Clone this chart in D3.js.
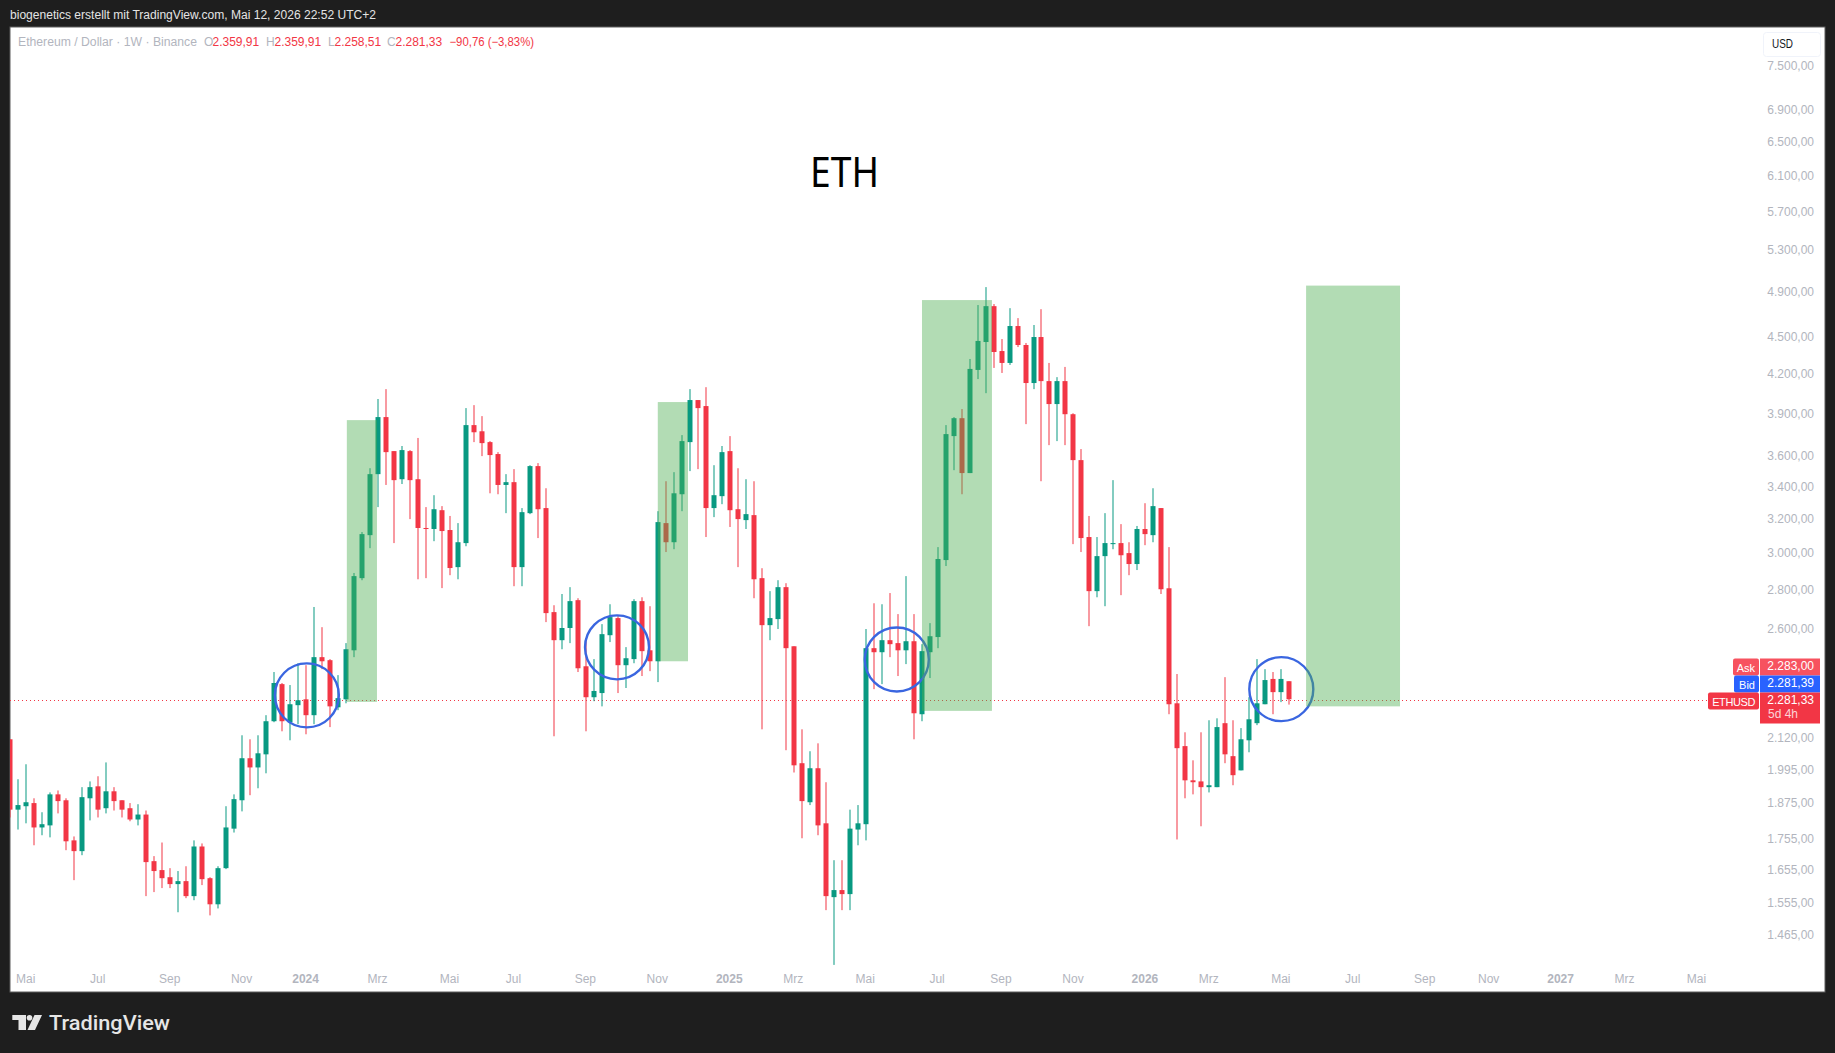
<!DOCTYPE html>
<html>
<head>
<meta charset="utf-8">
<style>
  html, body { margin: 0; padding: 0; background: #1e1e1e; overflow: hidden; }
  text { font-family: "Liberation Sans", Arial, sans-serif; }
</style>
<script src="https://cdn.jsdelivr.net/npm/d3@7"></script>
</head>
<body>
<div id="chart"></div>
<script>
// weekly candles, oldest first
const opens = [
  2116,1854,1866,1877,1793,1800,1908,1887,1750,1715,
  1894,1937,1859,1919,1887,1859,1820,1837,1683,1655,
  1633,1612,1621,1576,1730,1630,1552,1661,1789,1887,
  2042,2007,2057,2189,2347,2185,2256,2281,2214,2469,
  2455,2247,2281,2501,2864,3105,3482,3876,3636,3449,
  3636,3449,3147,3141,3254,3135,2924,3059,3818,3774,
  3698,3616,3412,3430,2924,3236,3535,3267,2687,2549,
  2608,2748,2427,2290,2308,2573,2657,2432,2460,2743,
  2501,2450,3176,3064,3353,3698,4002,3957,3267,3341,
  3636,3260,3194,3224,2864,2622,2652,2816,2520,2023,
  1880,2004,1807,1573,1594,1582,1786,1804,2511,2492,
  2549,2535,2501,2544,2218,2492,2564,2963,3740,3868,
  3489,4235,4463,4774,4388,4291,4599,4438,4132,4505,
  4147,3972,4147,3897,3575,3094,2795,2985,3053,3059,
  3002,2941,3141,3105,3267,2810,2264,2089,1959,1955,
  1934,1934,2181,2050,1996,2112,2181,2260,2370,2312,
  2359.91]
const highs = [
  2116,1963,2019,1894,1845,1915,1922,1894,1763,1934,
  1955,1974,2026,1934,1887,1877,1873,1851,1699,1743,
  1661,1652,1667,1750,1740,1633,1667,1866,1908,2132,
  2116,2132,2214,2401,2352,2343,2441,2432,2713,2612,
  2460,2387,2535,2892,3123,3521,4010,4085,3636,3671,
  3643,3727,3273,3347,3279,3219,3176,3942,3964,3883,
  3705,3629,3482,3515,3267,3541,3555,3391,2722,2780,
  2816,2758,2559,2460,2627,2727,2667,2516,2753,2763,
  2717,3248,3436,3495,3747,4085,4002,4100,3541,3671,
  3740,3521,3449,3436,2918,2795,2853,2837,2520,2156,
  2069,2100,1952,1686,1686,1854,1870,2603,2732,2727,
  2785,2677,2875,2677,2530,2632,3036,3818,3876,3935,
  4323,4784,4948,4793,4488,4756,4668,4455,4608,4747,
  4291,4178,4259,3904,3650,3219,3094,3236,3443,3170,
  3064,3159,3297,3391,3267,3036,2392,2144,2034,2144,
  2193,2201,2378,2193,2161,2290,2460,2414,2401,2414,
  2359.91]
const lows = [
  1827,1786,1807,1734,1767,1760,1841,1718,1624,1702,
  1817,1827,1841,1851,1827,1814,1800,1576,1588,1600,
  1600,1529,1570,1564,1609,1520,1540,1658,1776,1848,
  1905,1930,1985,2185,2148,2112,2177,2136,2177,2414,
  2165,2235,2264,2469,2853,3030,3273,3412,3059,3418,
  3200,2858,2864,3070,2811,2880,2858,3041,3698,3602,
  3359,3353,3236,2821,2821,3230,3088,2637,2128,2506,
  2535,2401,2148,2273,2251,2540,2308,2330,2441,2383,
  2405,2356,3008,3024,3248,3502,3515,3094,3212,3291,
  3153,2924,3141,2758,2156,2549,2603,2073,1988,1757,
  1870,1767,1535,1385,1535,1535,1734,1750,2325,2347,
  2469,2383,2437,2116,2189,2374,2511,2930,3508,3353,
  3489,4163,4054,4251,4211,4275,4421,3825,4085,3436,
  3677,3705,3677,3053,3008,2617,2763,2717,3024,2774,
  2880,2908,3047,3064,2780,2218,1753,1894,1908,1797,
  1915,1934,2023,1941,1996,2065,2173,2260,2218,2269,
  2258.51]
const closes = [
  1854,1870,1880,1793,1804,1908,1884,1747,1715,1898,
  1934,1854,1919,1884,1854,1820,1837,1680,1652,1630,
  1612,1621,1576,1730,1627,1552,1661,1793,1891,2042,
  2007,2061,2189,2352,2189,2260,2277,2214,2469,2450,
  2251,2286,2506,2875,3111,3482,3876,3629,3443,3643,
  3443,3147,3141,3260,3129,2919,3064,3818,3767,3691,
  3609,3412,3430,2924,3242,3535,3260,2682,2549,2608,
  2743,2418,2290,2317,2578,2662,2432,2464,2743,2497,
  2450,3182,3064,3359,3705,4002,3942,3267,3347,3629,
  3254,3200,3230,2858,2622,2657,2816,2511,2015,1884,
  2004,1800,1576,1594,1582,1789,1807,2511,2492,2549,
  2530,2501,2544,2222,2497,2568,2969,3754,3868,3489,
  4243,4472,4774,4380,4291,4599,4438,4132,4505,4147,
  3972,4147,3897,3575,3088,2795,2985,3059,3059,2990,
  2941,3141,3111,3279,2805,2260,2081,1959,1952,1934,
  1941,2165,2057,1978,2116,2197,2264,2365,2312,2370,
  2281.33]

// axis ticks
const priceTicks = [7500,6900,6500,6100,5700,5300,4900,4500,4200,3900,3600,3400,3200,3000,2800,2600,2120,1995,1875,1755,1655,1555,1465]
const timeTickIndex = [2,11,20,29,37,46,55,63,72,81,90,98,107,116,124,133,142,150,159,168,177,185,194,202,211]
const timeTickLabels = ["Mai","Jul","Sep","Nov","2024","Mrz","Mai","Jul","Sep","Nov","2025","Mrz","Mai","Jul","Sep","Nov","2026","Mrz","Mai","Jul","Sep","Nov","2027","Mrz","Mai"]

// drawn annotations, in bar index / price
const zoneFrom = [42.1, 81.0, 114.05, 162.1]
const zoneTo = [45.87, 84.78, 122.8, 173.85]
const zoneTop = [3854, 3987, 4829, 4962]
const zoneBottom = [2270, 2450, 2232, 2251]
const ringIndex = [37.1, 75.9, 110.9, 159]
const ringPrice = [2298, 2515, 2458, 2325]

const lastPrice = 2281.33
const askPrice = 2283.00
const bidPrice = 2281.39

const outerWidth = 1835, outerHeight = 1053
const panel = { left: 10, top: 27, right: 1825, bottom: 992 }
const upColor = "#089981", downColor = "#F23645", textGrey = "#b2b5be"

const x = d3.scaleLinear().domain([0, 160]).range([10.3, 1289.3])
const y = d3.scaleLog().domain([1465, 7500]).range([935, 65.7])

const de = d3.formatLocale({ decimal: ",", thousands: ".", grouping: [3], currency: ["", ""] })
const price = de.format(",.2f")

const svg = d3.select("#chart")
  .append("svg")
  .attr("width", outerWidth)
  .attr("height", outerHeight)
  .style("display", "block")

svg.append("defs").append("clipPath")
  .attr("id", "plot-clip")
  .append("rect")
  .attr("x", panel.left)
  .attr("y", panel.top)
  .attr("width", panel.right - panel.left)
  .attr("height", panel.bottom - panel.top)

svg.append("rect")
  .attr("width", outerWidth)
  .attr("height", outerHeight)
  .attr("fill", "#1e1e1e")

svg.append("rect")
  .attr("x", panel.left)
  .attr("y", panel.top)
  .attr("width", panel.right - panel.left)
  .attr("height", panel.bottom - panel.top)
  .attr("fill", "#fff")
  .attr("stroke", "#5d5d5d")

// header strip
svg.append("text")
  .attr("x", 10)
  .attr("y", 19)
  .attr("fill", "#e4e4e4")
  .attr("textLength", 366)
  .attr("lengthAdjust", "spacingAndGlyphs")
  .style("font-size", "12px")
  .text("biogenetics erstellt mit TradingView.com, Mai 12, 2026 22:52 UTC+2")

// legend line
const legendBits = [
  { x: 18, t: "Ethereum / Dollar · 1W · Binance", c: textGrey, w: 179 },
  { x: 204, t: "O", c: textGrey },
  { x: 212.5, t: price(opens[160]), c: downColor },
  { x: 266, t: "H", c: textGrey },
  { x: 274.5, t: price(highs[160]), c: downColor },
  { x: 328, t: "L", c: textGrey },
  { x: 334.5, t: price(lows[160]), c: downColor },
  { x: 387, t: "C", c: textGrey },
  { x: 395.5, t: price(closes[160]), c: downColor },
  { x: 449.5, t: "−90,76 (−3,83%)", c: downColor, w: 84.5 }
]
svg.append("g").selectAll("text")
  .data(legendBits)
  .join("text")
  .attr("x", d => d.x)
  .attr("y", 46)
  .attr("fill", d => d.c)
  .attr("textLength", d => d.w || null)
  .attr("lengthAdjust", "spacingAndGlyphs")
  .style("font-size", "12px")
  .text(d => d.t)

const plot = svg.append("g").attr("clip-path", "url(#plot-clip)")

// last price line
plot.append("line")
  .attr("x1", panel.left)
  .attr("x2", 1708)
  .attr("y1", Math.round(y(lastPrice)) + 1.5)
  .attr("y2", Math.round(y(lastPrice)) + 1.5)
  .attr("stroke", downColor)
  .attr("stroke-dasharray", "1,3")

// candles
const candles = d3.range(opens.length)
const candle = plot.append("g").selectAll("g")
  .data(candles)
  .join("g")
  .attr("fill", i => closes[i] >= opens[i] ? upColor : downColor)

candle.append("rect")
  .attr("x", i => Math.round(x(i)) - 0.5)
  .attr("width", 1)
  .attr("y", i => y(highs[i]))
  .attr("height", i => y(lows[i]) - y(highs[i]))

candle.append("rect")
  .attr("x", i => Math.round(x(i)) - 2.5)
  .attr("width", 5)
  .attr("y", i => y(Math.max(opens[i], closes[i])))
  .attr("height", i => Math.max(1, Math.abs(y(opens[i]) - y(closes[i]))))

// circles go under the zones
plot.append("g").selectAll("circle")
  .data(ringIndex)
  .join("circle")
  .attr("cx", d => x(d))
  .attr("cy", (d, i) => y(ringPrice[i]))
  .attr("r", 32)
  .attr("fill", "none")
  .attr("stroke", "#3a66e0")
  .attr("stroke-width", 2.4)

plot.append("g").selectAll("rect")
  .data(zoneFrom)
  .join("rect")
  .attr("x", d => x(d))
  .attr("width", (d, i) => x(zoneTo[i]) - x(d))
  .attr("y", (d, i) => y(zoneTop[i]))
  .attr("height", (d, i) => y(zoneBottom[i]) - y(zoneTop[i]))
  .attr("fill", "#4caf50")
  .attr("fill-opacity", 0.43)

svg.append("text")
  .attr("x", 810)
  .attr("y", 187)
  .attr("fill", "#000")
  .attr("textLength", 69)
  .attr("lengthAdjust", "spacingAndGlyphs")
  .style("font-family", "'Noto Sans', sans-serif")
  .style("font-size", "41px")
  .text("ETH")

// price axis
const yAxis = svg.append("g")
  .attr("transform", "translate(1814,-0.5)")
  .call(d3.axisLeft(y).tickValues(priceTicks).tickFormat(price).tickSize(0).tickPadding(0))
yAxis.select(".domain").remove()
yAxis.selectAll("text")
  .attr("fill", textGrey)
  .style("font-family", "'Liberation Sans', sans-serif")
  .style("font-size", "12px")

// time axis
const xAxis = svg.append("g")
  .attr("transform", "translate(-1,974)")
  .call(d3.axisBottom(x).tickValues(timeTickIndex).tickFormat((d, i) => timeTickLabels[i]).tickSize(0).tickPadding(0))
xAxis.select(".domain").remove()
xAxis.selectAll("text")
  .attr("fill", textGrey)
  .attr("dy", "0.71em")
  .style("font-family", "'Liberation Sans', sans-serif")
  .style("font-size", "12px")
  .style("font-weight", (d, i) => /^\d/.test(timeTickLabels[i]) ? "bold" : "normal")

// USD button
svg.append("rect")
  .attr("x", 1763.5)
  .attr("y", 32.5)
  .attr("width", 57)
  .attr("height", 24)
  .attr("rx", 3)
  .attr("fill", "#fff")
  .attr("stroke", "#f0f3fa")
svg.append("text")
  .attr("x", 1772)
  .attr("y", 48)
  .attr("fill", "#131722")
  .attr("textLength", 21)
  .attr("lengthAdjust", "spacingAndGlyphs")
  .style("font-size", "12px")
  .text("USD")

// price tags on the right
const tags = [
  { name: "Ask", value: price(askPrice), left: 1733, top: 658.5, color: "#f7525f" },
  { name: "Bid", value: price(bidPrice), left: 1734, top: 675.5, color: "#2962ff" },
  { name: "ETHUSD", value: price(lastPrice), left: 1708, top: 692.5, color: downColor }
]
const tag = svg.append("g").selectAll("g").data(tags).join("g")
tag.append("rect")
  .attr("x", d => d.left)
  .attr("y", d => d.top)
  .attr("width", d => 1759 - d.left)
  .attr("height", 17)
  .attr("rx", 2)
  .attr("fill", d => d.color)
tag.append("rect")
  .attr("x", 1760)
  .attr("y", d => d.top)
  .attr("width", 60)
  .attr("height", d => d.name === "ETHUSD" ? 31 : 17)
  .attr("fill", d => d.color)
tag.append("text")
  .attr("x", 1755)
  .attr("y", d => d.top + 13)
  .attr("text-anchor", "end")
  .attr("fill", "#fff")
  .style("font-size", "11px")
  .style("letter-spacing", d => d.name === "ETHUSD" ? "-0.4px" : "0")
  .text(d => d.name)
tag.append("text")
  .attr("x", 1814)
  .attr("y", d => d.top + 11)
  .attr("text-anchor", "end")
  .attr("fill", "#fff")
  .style("font-size", "12px")
  .text(d => d.value)
svg.append("text")
  .attr("x", 1768)
  .attr("y", 718)
  .attr("fill", "#fff")
  .attr("fill-opacity", 0.8)
  .style("font-size", "12px")
  .text("5d 4h")

// TradingView mark in the footer
const logo = svg.append("g").attr("fill", "#e6e6e6")
logo.append("path").attr("d", "M12.3 1015H26V1030H18.5V1020H12.3Z")
logo.append("circle").attr("cx", 29.5).attr("cy", 1017.7).attr("r", 2.8)
logo.append("path").attr("d", "M34.5 1015H42L35 1030H27.5Z")
svg.append("text")
  .attr("x", 49)
  .attr("y", 1030)
  .attr("fill", "#e6e6e6")
  .attr("textLength", 121)
  .attr("lengthAdjust", "spacingAndGlyphs")
  .style("font-family", "'Roboto', sans-serif")
  .style("font-size", "21px")
  .style("font-weight", 500)
  .text("TradingView")
</script>
</body>
</html>
